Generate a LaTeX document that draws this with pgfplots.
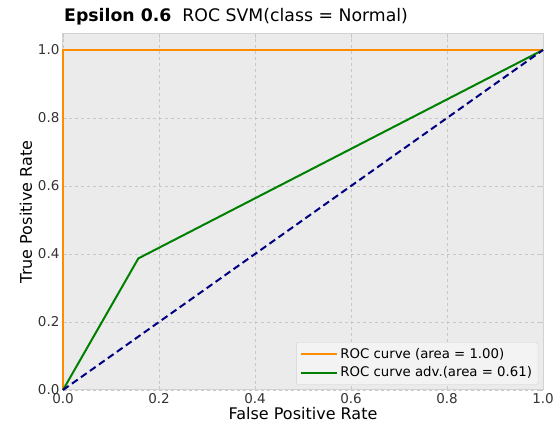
\documentclass[border=0pt]{standalone}
\usepackage{pgfplots}
\pgfplotsset{compat=1.18}
\usepackage{fontspec}
\setmainfont{DejaVu Sans}
\usetikzlibrary{calc}
\definecolor{bgc}{RGB}{235,235,235}
\definecolor{gridc}{RGB}{200,200,200}
\definecolor{framec}{RGB}{210,210,210}
\definecolor{orangec}{RGB}{255,140,0}
\definecolor{greenc}{RGB}{0,128,0}
\definecolor{navyc}{RGB}{0,0,128}
\begin{document}
\begin{tikzpicture}[x=1pt,y=1pt]
\begin{axis}[
  name=ax,
  scale only axis,
  width=480pt, height=356pt,
  xmin=0, xmax=1, ymin=0, ymax=1.047,
  axis background/.style={fill=bgc},
  axis line style={framec, line width=1pt},
  xtick={0,0.2,0.4,0.6,0.8,1.0},
  ytick={0,0.2,0.4,0.6,0.8,1.0},
  xticklabel style={/pgf/number format/fixed, /pgf/number format/fixed zerofill, /pgf/number format/precision=1},
  yticklabel style={/pgf/number format/fixed, /pgf/number format/fixed zerofill, /pgf/number format/precision=1},
  /pgf/number format/assume math mode=true,
  ticklabel style={font=\fontsize{13.5}{15}\selectfont, text=black!80},
  tick style={gridc, line width=0.8pt},
  tick align=inside,
  major tick length=4pt,
  grid=major,
  major grid style={gridc, dashed, line width=0.6pt},
  xlabel={False Positive Rate},
  ylabel={True Positive Rate},
  label style={font=\fontsize{16}{18}\selectfont},
  xlabel style={yshift=3pt},
  ylabel style={yshift=-1pt},
  legend style={at={(rel axis cs:0.99,0.015)}, anchor=south east, fill=white!40!bgc, draw=framec, rounded corners=2pt, font=\fontsize{13.3}{15}\selectfont, inner sep=4pt, row sep=3pt},
  legend cell align=left,
  legend image code/.code={\draw[#1] (0pt,0pt) -- (30pt,0pt); \path (0pt,0pt) -- (36pt,0pt);},
  clip=false,
]
\addplot[draw=orangec, line width=2pt] coordinates {(0,0) (0,1) (1,1)};
\addlegendentry{ROC curve (area = 1.00)}
\addplot[draw=greenc, line width=2pt] coordinates {(0,0) (0.157,0.387) (1,1)};
\addlegendentry{ROC curve adv.(area = 0.61)}
\addplot[draw=navyc, line width=2pt, dash pattern=on 7pt off 4pt, forget plot] coordinates {(0,0) (1,1)};
\node[anchor=south west, inner sep=0pt, font=\fontsize{17.3}{19}\selectfont] at ($(rel axis cs:0,1)+(1pt,9pt)$) {\textbf{Epsilon 0.6}\hspace{11pt}ROC SVM(class = Normal)};
\end{axis}
\pgfresetboundingbox
\path[use as bounding box] ($(ax.south west)+(-63pt,-40pt)$) rectangle ($(ax.north east)+(12pt,34pt)$);
\end{tikzpicture}
\end{document}
